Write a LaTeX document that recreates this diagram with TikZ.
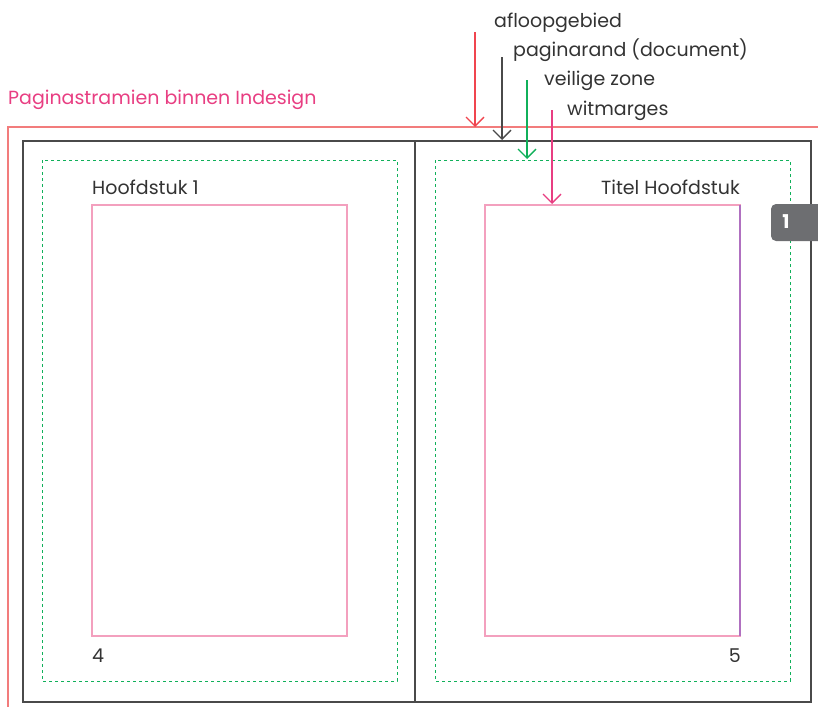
\documentclass[tikz,border=0pt]{standalone}
\usepackage{fontspec}
\setmainfont{Poppins}
\usetikzlibrary{arrows.meta}

\definecolor{bleedred}{HTML}{F27C7C}
\definecolor{arrowred}{HTML}{F0454F}
\definecolor{pagegray}{HTML}{4A4A4A}
\definecolor{safegreen}{HTML}{10B05A}
\definecolor{marginpink}{HTML}{F3A0BE}
\definecolor{marginmauve}{HTML}{B070C0}
\definecolor{titlepink}{HTML}{E83E82}
\definecolor{tabgray}{HTML}{6D6E71}
\definecolor{textgray}{HTML}{333333}

\tikzset{
  label/.style={anchor=base west, inner sep=0pt, text=textgray, font=\fontsize{19}{22}\selectfont},
  pointer/.style={line width=1.3pt, -{Straight Barb[length=9pt,width=18pt,line width=1.3pt]}},
  bleed/.style={bleedred, line width=1.3pt},
  pageedge/.style={pagegray, line width=1.6pt},
  safezone/.style={safegreen, line width=1pt, dash pattern=on 3pt off 3pt},
  margins/.style={marginpink, line width=1.2pt}
}

\begin{document}
\begin{tikzpicture}[x=1pt, y=-1pt]
		\useasboundingbox (0,0) rectangle (818,707);

		%title
		\node[label, text=titlepink] (title) at (8,104) {Paginastramien binnen Indesign};

		%bleed
		\draw[bleed] (818,127) -- (8,127) -- (8,707);

		%page edges
		\draw[pageedge] (23,141) rectangle (811,702);
		\draw[pagegray, line width=2.6pt] (415,141) -- (415,702);

		%safe zones
		\draw[safezone] (42,160) rectangle (397,681);
		\draw[safezone] (435,160) rectangle (790,681);

		%margins
		\draw[margins] (92,205) rectangle (347,636);
		\draw[margins] (485,205) rectangle (740,636);
		\draw[marginmauve, line width=1.2pt] (740,205) -- (740,636);

		%page texts
		\node[label] (chapter) at (92,194) {Hoofdstuk 1};
		\node[label, anchor=base east] (chaptertitle) at (740,194) {Titel Hoofdstuk};
		\node[label] (pageleft) at (92,662) {4};
		\node[label, anchor=base east] (pageright) at (741,662) {5};

		%tab
		\fill[tabgray, rounded corners=5pt] (771,204) rectangle (830,241);
		\node[anchor=center, text=white, font=\fontsize{19}{22}\bfseries\selectfont] (tab) at (786,222) {1};

		%legend
		\node[label] (afloop) at (494,27) {afloopgebied};
		\node[label] (paginarand) at (513,56) {paginarand (document)};
		\node[label] (veilig) at (544,85) {veilige zone};
		\node[label] (wit) at (567,115) {witmarges};

		\coordinate (afloopfrom) at (475,32);
		\coordinate (afloopto) at (475,127);
		\coordinate (randfrom) at (502,57);
		\coordinate (randto) at (502,140);
		\coordinate (veiligfrom) at (527,80);
		\coordinate (veiligto) at (527,159);
		\coordinate (witfrom) at (552,110);
		\coordinate (witto) at (552,204);

		\draw[pointer, arrowred] (afloopfrom) -- (afloopto);
		\draw[pointer, pagegray] (randfrom) -- (randto);
		\draw[pointer, safegreen] (veiligfrom) -- (veiligto);
		\draw[pointer, titlepink] (witfrom) -- (witto);
\end{tikzpicture}
\end{document}
